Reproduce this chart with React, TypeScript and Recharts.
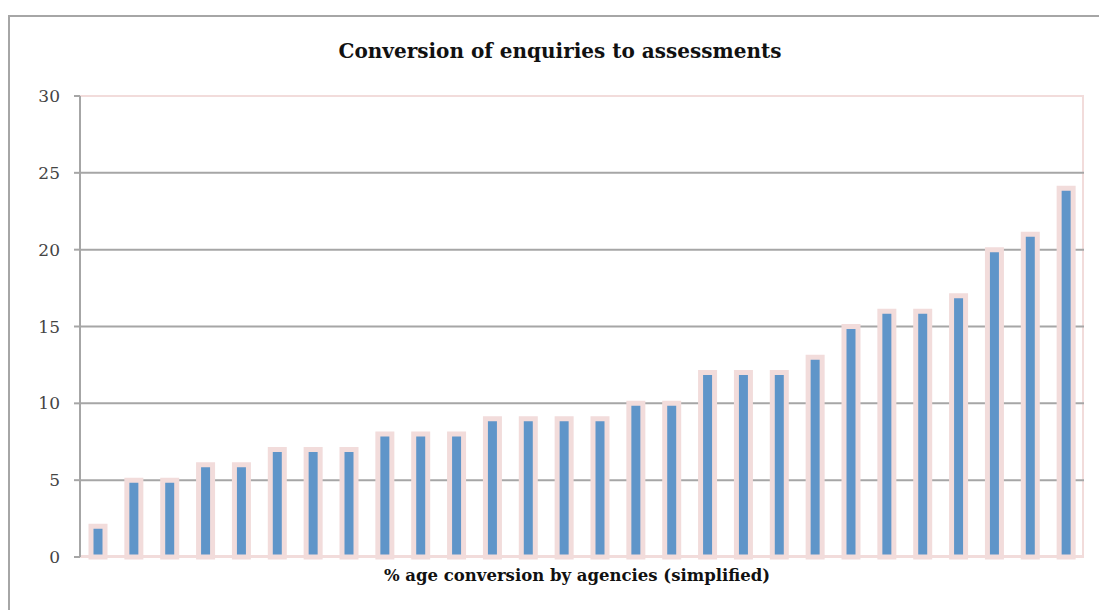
import { BarChart, Bar, XAxis, YAxis, CartesianGrid } from "recharts";

const agencies = [
  "A1", "A2", "A3", "A4", "A5", "A6", "A7", "A8", "A9", "A10", "A11", "A12", "A13", "A14",
  "A15", "A16", "A17", "A18", "A19", "A20", "A21", "A22", "A23", "A24", "A25", "A26", "A27", "A28",
];
const conversion = [
  2, 5, 5, 6, 6, 7, 7, 7, 8, 8, 8, 9, 9, 9, 9, 10, 10, 12, 12, 12, 13, 15, 16, 16, 17, 20, 21, 24,
];
const yTicks = [0, 5, 10, 15, 20, 25, 30];

const data = agencies.map((a, i) => ({ agency: a, value: conversion[i] }));

const serif = "'DejaVu Serif', 'Liberation Serif', serif";

export default function App() {
  return (
    // fixed to the viewport so nothing overflows the page and no scrollbars show
    <div style={{ position: "fixed", left: 0, top: 0, width: 1099, height: 610, overflow: "hidden", background: "#fff" }}>
      <div style={{ position: "absolute", left: 8, top: 8, width: 1091, height: 602 }}>
        {/* outer chart frame, runs off the right and bottom */}
        <div
          style={{
            position: "absolute",
            left: 0,
            top: 7,
            width: 1200,
            height: 700,
            border: "2px solid #a6a6a6",
            boxSizing: "border-box",
          }}
        />
        <div
          style={{
            position: "absolute",
            left: 0,
            width: 1104,
            top: 31,
            textAlign: "center",
            fontFamily: serif,
            fontWeight: "bold",
            fontSize: 20,
            color: "#111",
          }}
        >
          Conversion of enquiries to assessments
        </div>
        {/* plot area border */}
        <div
          style={{
            position: "absolute",
            left: 71,
            top: 87,
            width: 1005,
            height: 462,
            border: "2px solid #f2dcdb",
            boxSizing: "border-box",
          }}
        />
        <div style={{ position: "absolute", left: 0, top: 0 }}>
          <BarChart
            width={1091}
            height={602}
            data={data}
            margin={{ top: 88, right: 15, left: 0, bottom: 45 }}
            barSize={14}
          >
            <CartesianGrid
              vertical={false}
              horizontalValues={[5, 10, 15, 20, 25]}
              stroke="#a6a6a6"
              strokeWidth={2}
            />
            <XAxis
              dataKey="agency"
              tick={false}
              tickLine={false}
              height={8}
              axisLine={{ stroke: "#f2dcdb", strokeWidth: 2 }}
            />
            <YAxis
              domain={[0, 30]}
              ticks={yTicks}
              width={72}
              tickSize={6}
              tickMargin={14}
              axisLine={{ stroke: "#a6a6a6", strokeWidth: 2 }}
              tickLine={{ stroke: "#a6a6a6", strokeWidth: 2 }}
              tick={{ fontFamily: serif, fontSize: 17, fill: "#444" }}
            />
            <Bar
              dataKey="value"
              fill="#5f95c9"
              stroke="#f2dcdb"
              strokeWidth={5}
              isAnimationActive={false}
            />
          </BarChart>
        </div>
        <div
          style={{
            position: "absolute",
            left: 0,
            width: 1138,
            top: 558,
            textAlign: "center",
            fontFamily: serif,
            fontWeight: "bold",
            fontSize: 16.5,
            color: "#111",
          }}
        >
          % age conversion by agencies (simplified)
        </div>
      </div>
    </div>
  );
}
